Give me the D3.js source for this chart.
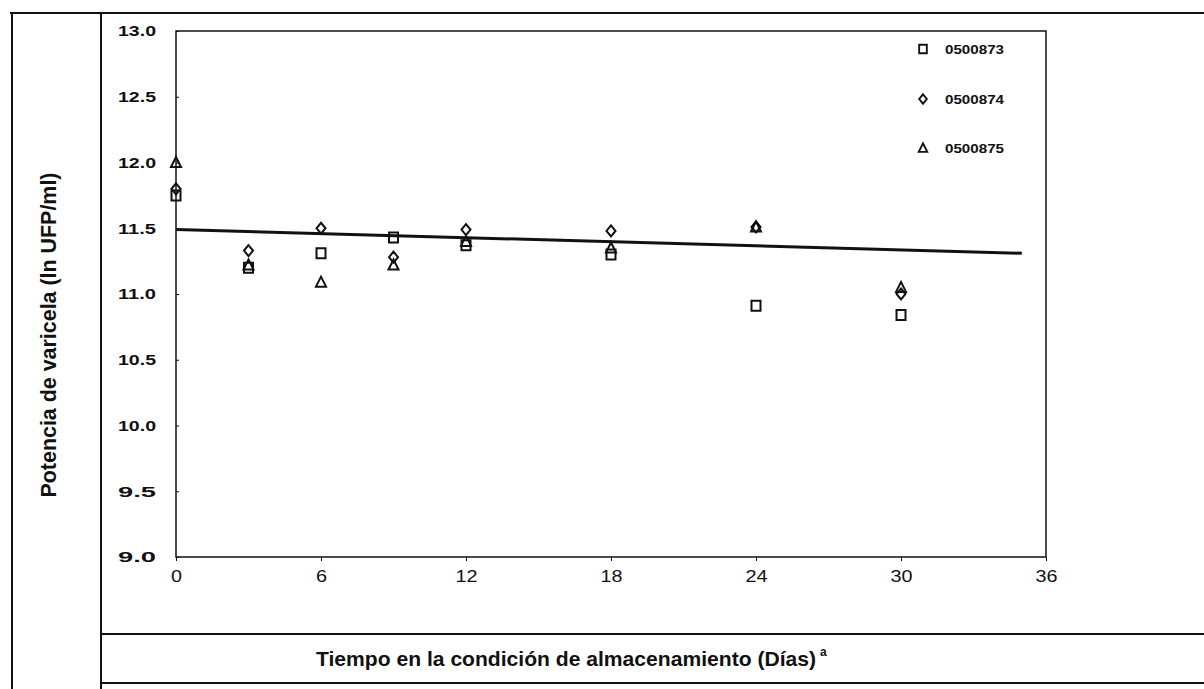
<!DOCTYPE html>
<html>
<head>
<meta charset="utf-8">
<script src="https://cdn.jsdelivr.net/npm/d3@7"></script>
<style>
  body { margin: 0; background: #fff; }
  svg { display: block; }
</style>
</head>
<body>
<svg id="chart" width="1204" height="689"></svg>
<script>
// data
let days = [0, 3, 6, 9, 12, 18, 24, 30];
let lot873 = [11.75, 11.20, 11.31, 11.43, 11.37, 11.30, 10.91, 10.84];
let lot874 = [11.80, 11.33, 11.50, 11.28, 11.49, 11.48, 11.51, 11.00];
let lot875 = [12.00, 11.22, 11.09, 11.22, 11.40, 11.35, 11.51, 11.05];
let lotNames = ["0500873", "0500874", "0500875"];
let lotSymbols = ["square", "diamond", "triangle"];
let trendDays = [0, 35];
let trendValues = [11.49, 11.31];
let xTicks = [0, 6, 12, 18, 24, 30, 36];
let yTicks = [9.0, 9.5, 10.0, 10.5, 11.0, 11.5, 12.0, 12.5, 13.0];

let ink = "#111";
let fontFam = "'Liberation Sans', Arial, sans-serif";

let svg = d3.select("#chart");

let x = d3.scaleLinear().domain([0, 36]).range([176, 1046]);
let y = d3.scaleLinear().domain([9, 13]).range([557, 31]);

// table lines around the figure
let tableLines = [
  "M 10 13 L 1204 13",
  "M 12 13 L 12 689",
  "M 101 13 L 101 689",
  "M 101 634 L 1204 634",
  "M 101 683 L 1204 683"
];
svg.selectAll(".tableLine")
  .data(tableLines)
  .enter().append("path")
  .attr("class", "tableLine")
  .attr("d", d => d)
  .style("stroke", ink)
  .style("stroke-width", 2)
  .style("fill", "none");

// plot frame
svg.append("rect")
  .attr("x", x(0))
  .attr("y", y(13))
  .attr("width", x(36) - x(0))
  .attr("height", y(9) - y(13))
  .style("fill", "none")
  .style("stroke", ink)
  .style("stroke-width", 1.5);

// axes
let yAxis = svg.append("g")
  .attr("transform", "translate(" + x(0) + ",0)")
  .call(d3.axisLeft(y).tickValues(yTicks).tickFormat(d3.format(".1f"))
    .tickSizeInner(-3).tickSizeOuter(0).tickPadding(20));
yAxis.select(".domain").remove();
yAxis.selectAll("text")
  .attr("textLength", 38)
  .attr("lengthAdjust", "spacingAndGlyphs")
  .style("font-family", fontFam)
  .style("font-weight", "bold")
  .style("font-size", "15px")
  .style("fill", ink);

let xAxis = svg.append("g")
  .attr("transform", "translate(0," + y(9) + ")")
  .call(d3.axisBottom(x).tickValues(xTicks).tickSizeInner(4).tickSizeOuter(0).tickPadding(10));
xAxis.select(".domain").remove();
xAxis.selectAll("text")
  .attr("textLength", d => String(d).length * 11)
  .attr("lengthAdjust", "spacingAndGlyphs")
  .style("font-family", fontFam)
  .style("font-size", "16px")
  .style("fill", ink);
xAxis.selectAll("line").style("stroke", ink);
yAxis.selectAll("line").style("stroke", ink);

// regression line
svg.append("path")
  .datum(d3.zip(trendDays, trendValues))
  .attr("d", d3.line().x(d => x(d[0])).y(d => y(d[1])))
  .style("stroke", ink)
  .style("stroke-width", 3)
  .style("fill", "none");

function symbolPath(kind) {
  if (kind == "square") return "M -4.5 -5 L 4.5 -5 L 4.5 5 L -4.5 5 Z";
  if (kind == "diamond") return "M 0 -5.5 L 4.5 0 L 0 5.5 L -4.5 0 Z";
  return "M 0 -5.5 L 5 4.5 L -5 4.5 Z";
}

// points, one group per lot
let lots = [lot873, lot874, lot875];
lots.forEach(function(values, i) {
  svg.selectAll(".pt" + i)
    .data(d3.zip(days, values))
    .enter().append("path")
    .attr("class", "pt" + i)
    .attr("d", symbolPath(lotSymbols[i]))
    .attr("transform", d => "translate(" + x(d[0]) + "," + y(d[1]) + ")")
    .style("fill", "none")
    .style("stroke", ink)
    .style("stroke-width", 2);
});

// legend
let legendY = [49, 99, 148];
lotNames.forEach(function(name, i) {
  svg.append("path")
    .attr("d", symbolPath(lotSymbols[i]))
    .attr("transform", "translate(923," + legendY[i] + ") scale(0.85)")
    .style("fill", "none")
    .style("stroke", ink)
    .style("stroke-width", 2.2);
  svg.append("text")
    .attr("x", 945)
    .attr("y", legendY[i])
    .attr("dy", "0.35em")
    .attr("textLength", 59)
    .attr("lengthAdjust", "spacingAndGlyphs")
    .text(name)
    .style("font-family", fontFam)
    .style("font-weight", "bold")
    .style("font-size", "13px")
    .style("fill", ink);
});

// axis titles
svg.append("text")
  .attr("transform", "translate(48,335) rotate(-90)")
  .attr("dy", "0.35em")
  .attr("textLength", 325)
  .attr("lengthAdjust", "spacingAndGlyphs")
  .text("Potencia de varicela (ln UFP/ml)")
  .style("text-anchor", "middle")
  .style("font-family", fontFam)
  .style("font-weight", "bold")
  .style("font-size", "22px")
  .style("fill", ink);

svg.append("text")
  .attr("x", 316)
  .attr("y", 666)
  .attr("textLength", 500)
  .attr("lengthAdjust", "spacingAndGlyphs")
  .text("Tiempo en la condición de almacenamiento (Días)")
  .style("font-family", fontFam)
  .style("font-weight", "bold")
  .style("font-size", "21px")
  .style("fill", ink);

// footnote mark after the title
svg.append("text")
  .attr("x", 820)
  .attr("y", 656)
  .text("a")
  .style("font-family", fontFam)
  .style("font-weight", "bold")
  .style("font-size", "12px")
  .style("fill", ink);
</script>
</body>
</html>
